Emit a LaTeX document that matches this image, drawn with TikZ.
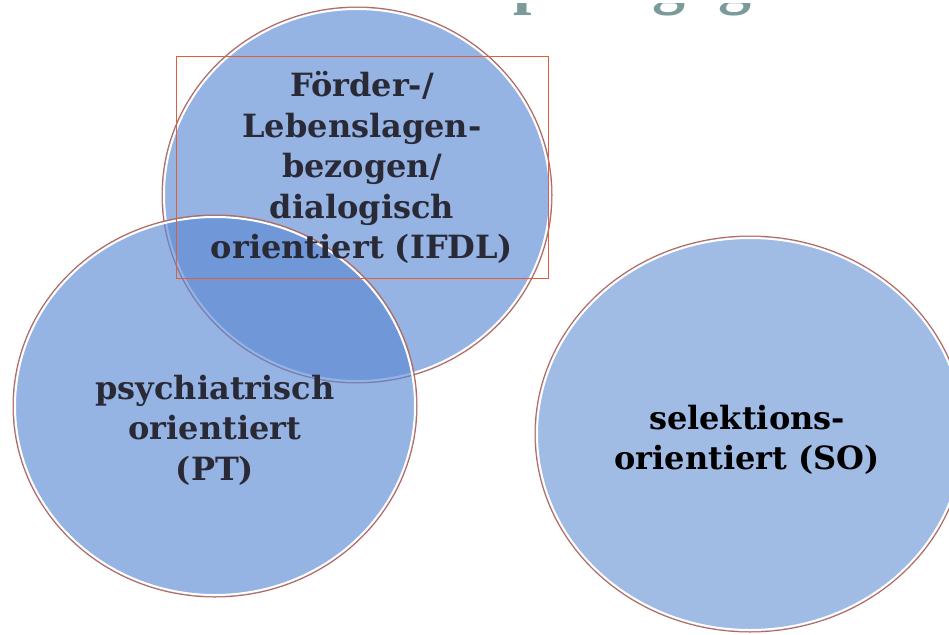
\documentclass[tikz,border=0pt]{standalone}
\usepackage{fontspec}
\setmainfont{DejaVu Serif}
\newfontfamily\titlefont{Liberation Serif}
\definecolor{kreisblau}{RGB}{92,138,212}
\definecolor{kreishell}{RGB}{160,187,228}
\definecolor{randrot}{RGB}{190,100,82}
\definecolor{boxrot}{RGB}{220,95,62}
\definecolor{textdunkel}{RGB}{42,42,54}
\definecolor{titelgrau}{RGB}{122,155,153}
\begin{document}
\begin{tikzpicture}
[x=1pt,y=-1pt,
  kreisdecorate/.style={fill=kreisblau,fill opacity=0.65},%
  sodecorate/.style={fill=kreishell},%
  labeldecorate/.style={align=center,inner sep=0pt,text=textdunkel,
    font=\bfseries\fontsize{32}{40.5}\selectfont},%
  boxdecorate/.style={labeldecorate,draw=boxrot,line width=0.9pt,
    minimum width=372pt,minimum height=222pt}]
\useasboundingbox (0,0) rectangle (949,634);
%% heading, cut off by the top edge
\begin{scope}
\clip (0,3.5) rectangle (949,30);
\node[anchor=base west,inner sep=0pt,text=titelgrau,
  font=\titlefont\bfseries\fontsize{66}{70}\selectfont] (titel) at (513,2) {pädagog/};
\end{scope}
%% circles
\foreach \x/\y/\rx/\ry/\kreisstyle in {750/434/215/198/sodecorate,
  357/195/195/188/kreisdecorate, 215/406/202/191/kreisdecorate} {
  \fill[\kreisstyle] (\x,\y) ellipse [x radius=\rx, y radius=\ry];
  \draw[white,line width=2pt] (\x,\y) ellipse [x radius=\rx-2, y radius=\ry-2];
  \draw[randrot,line width=1pt] (\x,\y) ellipse [x radius=\rx, y radius=\ry];
}
%% labels
\node[boxdecorate] (ifdl) at (362,167.5)
  {Förder-/\\Lebenslagen-\\bezogen/\\dialogisch\\orientiert (IFDL)};
\node[labeldecorate] (pt) at (215,430) {psychiatrisch\\orientiert\\(PT)};
\node[labeldecorate,text=black] (so) at (747,440) {selektions-\\orientiert (SO)};
\end{tikzpicture}
\end{document}
